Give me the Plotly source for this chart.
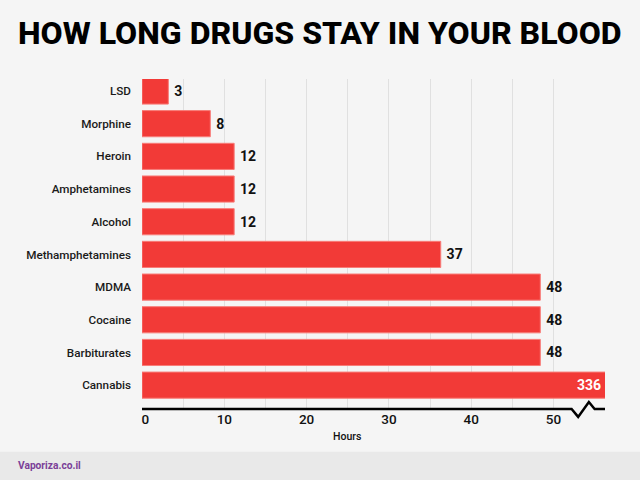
import plotly.graph_objects as go

# Data
drugs = ["LSD", "Morphine", "Heroin", "Amphetamines", "Alcohol",
         "Methamphetamines", "MDMA", "Cocaine", "Barbiturates", "Cannabis"]
hours = [3, 8, 12, 12, 12, 37, 48, 48, 48, 336]
# bar lengths as drawn against the axis (the source does not draw them to exact scale)
drawn_hours = [3.2, 8.3, 11.2, 11.2, 11.2, 36.3, 48.4, 48.4, 48.4, 336]
tick_vals = [0, 10, 20, 30, 40, 50]
tick_text = ["\u00a0\u00a00", "10", "20", "30", "40", "50"]
axis_max = 56.26

fig = go.Figure()

fig.add_trace(go.Bar(
    y=drugs,
    x=drawn_hours,
    orientation="h",
    text=["\u2009" + str(h) for h in hours[:-1]] + [""],
    textposition="outside",
    constraintext="none",
    cliponaxis=True,
    textangle=0,
    textfont=dict(family="Roboto", size=14, weight=700, color="#111111"),
    marker=dict(color="#f23a37", line=dict(color="#f87c78", width=1)),
    hoverinfo="skip",
))

# the cannabis bar runs past the axis, so its label sits at the axis end
fig.add_annotation(text=str(hours[-1]), x=axis_max, y=drugs[-1], xanchor="right",
                   xshift=-2, showarrow=False,
                   font=dict(family="Roboto", size=14, weight=700, color="#ffffff"))

# footer band
fig.add_shape(type="rect", xref="paper", yref="paper", x0=-1, x1=2, y0=-1,
              y1=-0.1295, fillcolor="#e9e9e9", line_width=0, layer="below")

# axis line with the break in it
fig.add_shape(
    type="path",
    xref="x", yref="paper",
    path="M 0 0 L 52.2 0 L 53 -0.024 L 54.3 0.021 L 55 0 L 56.26 0",
    line=dict(color="#000000", width=2.5),
)

fig.add_annotation(text="HOW LONG DRUGS STAY IN YOUR BLOOD", xref="paper", yref="paper",
                   x=-0.2715, y=1.139, xanchor="left", yanchor="middle", showarrow=False,
                   font=dict(family="Roboto", size=32.1, weight=800, color="#000000"))
fig.add_annotation(text="Vaporiza.co.il", xref="paper", yref="paper",
                   x=-0.2715, y=-0.1725, xanchor="left", yanchor="middle", showarrow=False,
                   font=dict(family="Roboto", size=10.2, weight=700, color="#7b3f98"))
fig.add_annotation(text="Hours", xref="paper", yref="paper",
                   x=0.4428, y=-0.0848, xanchor="center", yanchor="middle", showarrow=False,
                   font=dict(family="Roboto", size=10.5, weight=500, color="#111111"))

fig.update_layout(
    width=640,
    height=480,
    margin=dict(l=142, r=35, t=79, b=71),
    paper_bgcolor="#f5f5f5",
    plot_bgcolor="#f5f5f5",
    bargap=0.2,
    showlegend=False,
    font=dict(family="Roboto", color="#111111"),
    xaxis=dict(
        range=[0, axis_max],
        tickvals=tick_vals,
        ticktext=tick_text,
        ticks="",
        showgrid=False,
        zeroline=False,
        showline=False,
        minor=dict(tickvals=[5, 10, 15, 20, 25, 30, 35, 40, 45, 50], showgrid=True,
                   gridcolor="#e0e0e0", gridwidth=1),
        tickfont=dict(family="Roboto", size=13.5, weight=500, color="#111111"),
        automargin=False,
    ),
    yaxis=dict(
        type="category",
        categoryorder="array",
        categoryarray=drugs,
        range=[9.73, -0.367],
        ticks="",
        showgrid=False,
        zeroline=False,
        showline=False,
        ticklabelstandoff=10,
        tickfont=dict(family="Roboto", size=11.7, weight=500, color="#1a1a1a"),
        automargin=False,
    ),
)

fig.write_html("out.html", config=dict(displayModeBar=False),
               post_script="document.body.style.margin='0';")
